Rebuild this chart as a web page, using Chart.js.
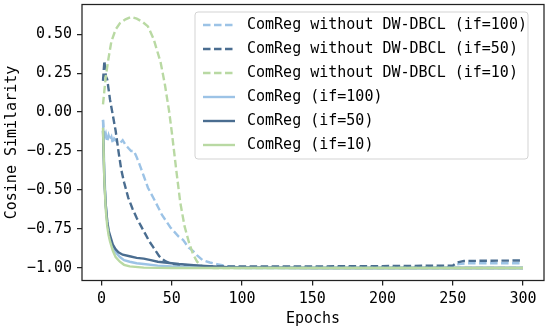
<!DOCTYPE html>
<html>
<head>
<meta charset="utf-8">
<script src="https://cdn.jsdelivr.net/npm/chart.js@4.4.0/dist/chart.umd.min.js"></script>
<style>html,body{margin:0;padding:0;background:#fff}</style>
</head>
<body>
<canvas id="chart" width="550" height="331"></canvas>
<script>
// tick labels
const xTicks = [0, 50, 100, 150, 200, 250, 300];
const yTicks = [-1.0, -0.75, -0.5, -0.25, 0, 0.25, 0.5];

const seriesNames = [
    "ComReg without DW-DBCL (if=100)",
    "ComReg without DW-DBCL (if=50)",
    "ComReg without DW-DBCL (if=10)",
    "ComReg (if=100)",
    "ComReg (if=50)",
    "ComReg (if=10)"
];

// ComReg without DW-DBCL (if=100)
const noDw100Epochs = [1, 2, 3, 4, 5, 6, 7, 8, 9, 11, 13, 15, 17, 19, 21, 23, 25, 27, 30, 33, 38, 43, 49, 55, 58, 62, 65, 68, 72, 77, 82, 90, 100, 150, 200, 250, 254, 260, 300];
const noDw100Values = [-0.05, -0.17, -0.14, -0.19, -0.15, -0.18, -0.16, -0.2, -0.17, -0.19, -0.2, -0.18, -0.21, -0.23, -0.25, -0.25, -0.29, -0.335, -0.41, -0.485, -0.57, -0.66, -0.74, -0.8, -0.82, -0.87, -0.89, -0.92, -0.95, -0.965, -0.975, -0.99, -0.995, -0.995, -0.995, -0.995, -0.975, -0.97, -0.97];

// ComReg without DW-DBCL (if=50)
const noDw50Epochs = [1, 2, 3, 4, 6, 8, 10, 12, 14, 16, 19, 22, 25, 28, 31, 34, 37, 41, 45, 50, 60, 80, 100, 150, 200, 250, 253, 258, 300];
const noDw50Values = [0.2, 0.33, 0.23, 0.21, 0.08, -0.02, -0.12, -0.25, -0.37, -0.45, -0.55, -0.62, -0.68, -0.73, -0.78, -0.83, -0.87, -0.925, -0.955, -0.975, -0.985, -0.99, -0.99, -0.99, -0.988, -0.985, -0.965, -0.955, -0.952];

// ComReg without DW-DBCL (if=10)
const noDw10Epochs = [1, 3, 5, 7, 10, 13, 17, 21, 25, 29, 33, 37, 42, 45, 48, 50, 53, 56, 59, 62, 65, 68, 71, 75, 80, 100, 150, 200, 250, 300];
const noDw10Values = [0.05, 0.23, 0.35, 0.455, 0.53, 0.57, 0.595, 0.61, 0.6, 0.58, 0.55, 0.47, 0.32, 0.18, 0.01, -0.13, -0.36, -0.58, -0.73, -0.83, -0.91, -0.96, -0.985, -0.995, -1.0, -1.0, -1.0, -1.0, -1.0, -1.0];

// ComReg (if=100)
const dw100Epochs = [1, 2, 3, 4, 5, 6, 8, 10, 13, 16, 20, 25, 30, 40, 50, 70, 100, 150, 200, 250, 300];
const dw100Values = [-0.05, -0.4, -0.6, -0.7, -0.77, -0.81, -0.87, -0.9, -0.93, -0.95, -0.96, -0.97, -0.975, -0.985, -0.99, -0.995, -1.0, -1.0, -1.0, -1.0, -1.0];

// ComReg (if=50)
const dw50Epochs = [1, 2, 3, 4, 5, 6, 8, 10, 12, 15, 20, 25, 30, 35, 40, 45, 55, 70, 90, 100, 150, 200, 250, 300];
const dw50Values = [-0.12, -0.45, -0.6, -0.7, -0.76, -0.79, -0.85, -0.88, -0.9, -0.915, -0.925, -0.935, -0.94, -0.95, -0.96, -0.965, -0.975, -0.985, -0.995, -0.997, -1.0, -1.0, -1.0, -1.0];

// ComReg (if=10)
const dw10Epochs = [1, 2, 3, 4, 5, 6, 8, 10, 13, 16, 20, 30, 50, 100, 150, 200, 250, 300];
const dw10Values = [-0.1, -0.45, -0.63, -0.73, -0.79, -0.83, -0.89, -0.93, -0.96, -0.98, -0.99, -0.998, -1.0, -1.0, -1.0, -1.0, -1.0, -1.0];

const lightBlue = "#9cc3e6";
const navy = "#4a6d90";
const green = "#b9d9a3";

function toPoints(xs, ys) {
    return xs.map((x, i) => ({ x: x, y: ys[i] }));
}

const seriesData = [
    toPoints(noDw100Epochs, noDw100Values),
    toPoints(noDw50Epochs, noDw50Values),
    toPoints(noDw10Epochs, noDw10Values),
    toPoints(dw100Epochs, dw100Values),
    toPoints(dw50Epochs, dw50Values),
    toPoints(dw10Epochs, dw10Values)
];
const seriesColors = [lightBlue, navy, green, lightBlue, navy, green];
const seriesDashed = [true, true, true, false, false, false];

const datasets = seriesNames.map((name, i) => ({
    label: name,
    data: seriesData[i],
    borderColor: seriesColors[i],
    borderWidth: 2.4,
    borderDash: seriesDashed[i] ? [7.5, 3.5] : [],
    pointRadius: 0,
    tension: 0,
    fill: false,
    order: seriesNames.length - i
}));

// frame around the plot area
const framePlugin = {
    id: "frame",
    afterDatasetsDraw(chart) {
        const a = chart.chartArea;
        const ctx = chart.ctx;
        ctx.save();
        ctx.strokeStyle = "#222";
        ctx.lineWidth = 1.25;
        ctx.strokeRect(a.left, a.top, a.right - a.left, a.bottom - a.top);
        ctx.restore();
    }
};

// matplotlib-like legend in the upper right
const legendPlugin = {
    id: "mplLegend",
    afterDraw(chart) {
        const ctx = chart.ctx;
        const left = 195, top = 12, right = 528, bottom = 159;
        ctx.save();
        ctx.beginPath();
        ctx.roundRect(left, top, right - left, bottom - top, 3);
        ctx.fillStyle = "rgba(255,255,255,0.8)";
        ctx.fill();
        ctx.strokeStyle = "#d3d3d3";
        ctx.lineWidth = 1;
        ctx.stroke();
        ctx.font = "15px 'DejaVu Sans Mono', monospace";
        ctx.textBaseline = "middle";
        ctx.textAlign = "left";
        chart.data.datasets.forEach((ds, i) => {
            const y = 25 + i * 24;
            ctx.beginPath();
            ctx.setLineDash(ds.borderDash);
            ctx.strokeStyle = ds.borderColor;
            ctx.lineWidth = 2.4;
            ctx.moveTo(203, y);
            ctx.lineTo(235, y);
            ctx.stroke();
            ctx.setLineDash([]);
            ctx.fillStyle = "#000";
            ctx.fillText(ds.label, 247, y);
        });
        ctx.restore();
    }
};

Chart.defaults.font.family = "'DejaVu Sans Mono', monospace";
Chart.defaults.font.size = 15;
Chart.defaults.color = "#000";

const ctx = document.getElementById("chart").getContext("2d");
new Chart(ctx, {
    type: "line",
    data: { datasets: datasets },
    options: {
        responsive: false,
        animation: false,
        devicePixelRatio: 1,
        layout: { padding: { top: 4.5, right: 6, left: 0, bottom: 0 } },
        plugins: {
            legend: { display: false },
            tooltip: { enabled: false }
        },
        scales: {
            x: {
                type: "linear",
                min: -13.95,
                max: 314.95,
                afterBuildTicks: scale => { scale.ticks = xTicks.map(v => ({ value: v })); },
                afterFit: scale => { scale.height = 50.5; scale.paddingLeft = 0; scale.paddingRight = 0; },
                ticks: { padding: 5, maxRotation: 0, autoSkip: false, callback: v => String(v) },
                grid: { drawOnChartArea: false, drawTicks: true, tickLength: 5, color: "#222", lineWidth: 1.25 },
                border: { display: false },
                title: { display: true, text: "Epochs", padding: { top: 0, bottom: 3 } }
            },
            y: {
                type: "linear",
                min: -1.0805,
                max: 0.6905,
                afterBuildTicks: scale => { scale.ticks = yTicks.map(v => ({ value: v })); },
                afterFit: scale => { scale.width = 82; scale.paddingTop = 0; scale.paddingBottom = 0; },
                ticks: { padding: 5, autoSkip: false, callback: v => v.toFixed(2).replace("-", "\u2212") },
                grid: { drawOnChartArea: false, drawTicks: true, tickLength: 5, color: "#222", lineWidth: 1.25 },
                border: { display: false },
                title: { display: true, text: "Cosine Similarity", padding: { top: 3, bottom: 0 } }
            }
        }
    },
    plugins: [framePlugin, legendPlugin]
});
</script>
</body>
</html>
